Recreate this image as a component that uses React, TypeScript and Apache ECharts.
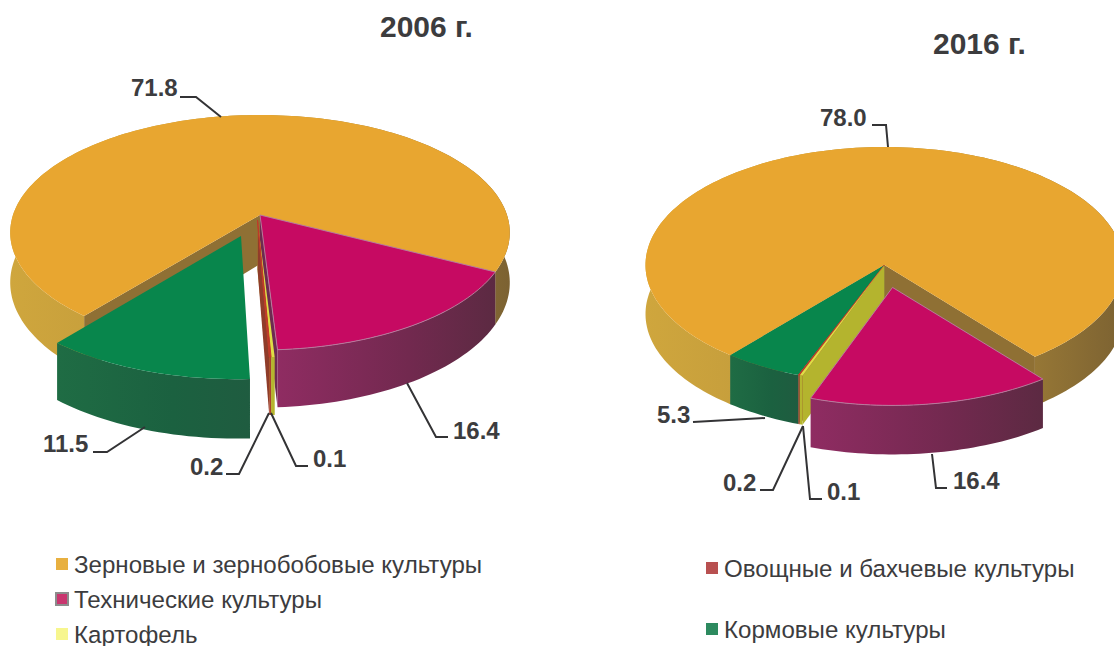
import React, { useEffect, useRef } from "react";
import * as echarts from "echarts";

const categories = [
  "Зерновые и зернобобовые культуры",
  "Технические культуры",
  "Картофель",
  "Овощные и бахчевые культуры",
  "Кормовые культуры",
];
const years = ["2006 г.", "2016 г."];
const values2006 = [71.8, 16.4, 0.2, 0.1, 11.5];
const values2016 = [78.0, 16.4, 0.2, 0.1, 5.3];

// clockwise drawing sequence of the slices (indices into categories)
const sequence = [1, 2, 3, 4, 0];

const FONT = "'Liberation Sans', Arial, sans-serif";
const TXT = "#3c3c3e";

const pies = [
  {
    cx: 260, cy: 215, rx: 247, ry: 114.9, k: 0.149, depth: 49, start: 27.5,
    explode: { 4: [-0.075, 0.178], 2: [-0.01, 0.045], 3: [-0.01, 0.045] } as Record<number, number[]>,
    paint: [1, 3, 4, 5, 2],
  },
  {
    cx: 884.5, cy: 265, rx: 239, ry: 118, k: 0, depth: 49, start: 51,
    explode: { 1: [0.0335, 0.19] } as Record<number, number[]>,
    paint: [1, 5, 4, 3, 2],
  },
];

const looks = [
  { top: "#e8a630", side: ["#cfa63d", "#b48f3a", "#7c6232"], wall: "#8f7034", edge: "" },
  { top: "#c60a62", side: ["#8f2c62", "#72294f", "#5c2a42"], wall: "#6d2a50", edge: "#b67a9c" },
  { top: "#dede45", side: ["#b5b52e", "#b5b52e", "#b5b52e"], wall: "#b4b42e", edge: "" },
  { top: "#c0392a", side: ["#a8412c", "#a8412c", "#a8412c"], wall: "#8f3d2a", edge: "#c0392a" },
  { top: "#08864c", side: ["#1f6c44", "#1b6140", "#1f5c40"], wall: "#1b6140", edge: "" },
];
const legendColors = ["#e8b040", "#c9366f", "#f7f68e", "#b85050", "#2d8a5f"];

const valuesByPie = [values2006, values2016];

function sliceRange(pieIdx: number, cat: number) {
  let a = pies[pieIdx].start;
  for (const c of sequence) {
    const sweep = (valuesByPie[pieIdx][c] / 100) * 360;
    if (c === cat) return [a, a + sweep];
    a += sweep;
  }
  return [a, a];
}

function renderSlice(cat: number) {
  return (params: any, api: any) => {
    const pieIdx = api.value(0);
    const pie = pies[pieIdx];
    const [a, b] = sliceRange(pieIdx, cat);
    const [ox, oy] = pie.explode[cat] || [0, 0];
    const look = looks[cat];
    const z2 = pie.paint[cat];
    const proj = (u: number, v: number, d: number) => {
      const w = 1 / (1 - pie.k * v);
      return [pie.cx + pie.rx * u * w, pie.cy + pie.ry * v * w + d * w];
    };
    const rim = (deg: number, d: number) => {
      const r = (deg * Math.PI) / 180;
      return proj(ox + Math.cos(r), oy + Math.sin(r), d);
    };
    const arc: number[] = [];
    const n = Math.max(2, Math.ceil((b - a) / 1.5));
    for (let i = 0; i <= n; i++) arc.push(a + ((b - a) * i) / n);
    const children: any[] = [];
    const wall = (deg: number) => ({
      type: "polygon",
      z2,
      shape: {
        points: [proj(ox, oy, 0), rim(deg, 0), rim(deg, pie.depth), proj(ox, oy, pie.depth)],
      },
      style: { fill: look.wall },
    });
    if (Math.cos((a * Math.PI) / 180) < 0) children.push(wall(a));
    if (Math.cos((b * Math.PI) / 180) > 0) children.push(wall(b));
    children.push({
      type: "polygon",
      z2,
      shape: {
        points: [...arc.map((t) => rim(t, 0)), ...arc.slice().reverse().map((t) => rim(t, pie.depth))],
      },
      style: {
        fill: new echarts.graphic.LinearGradient(0, 0, 1, 0, [
          { offset: 0, color: look.side[0] },
          { offset: 0.6, color: look.side[1] },
          { offset: 1, color: look.side[2] },
        ]),
      },
    });
    children.push({
      type: "polygon",
      z2,
      shape: { points: [proj(ox, oy, 0), ...arc.map((t) => rim(t, 0))] },
      style: {
        fill: look.top,
        stroke: look.edge || undefined,
        lineWidth: look.edge ? 1 : 0,
      },
    });
    return { type: "group", children };
  };
}

// label text position and leader line, per pie and category
const labelLayout = [
  [
    { cat: 0, x: 131, y: 87, line: [[180, 97], [196, 97], [221, 117]] },
    { cat: 1, x: 453, y: 430, line: [[407, 383], [436, 437], [448, 437]] },
    { cat: 3, x: 313, y: 458, line: [[271, 413], [296, 466], [308, 466]] },
    { cat: 2, x: 190, y: 466, line: [[269, 413], [239, 474], [226, 474]] },
    { cat: 4, x: 43, y: 443, line: [[145, 427], [107, 452], [93, 452]] },
  ],
  [
    { cat: 0, x: 820, y: 117, line: [[872, 125], [886, 125], [888, 147]] },
    { cat: 1, x: 953, y: 480, line: [[932, 454], [936, 488], [947, 488]] },
    { cat: 3, x: 827, y: 491, line: [[803, 426], [810, 499], [822, 499]] },
    { cat: 2, x: 723, y: 482, line: [[803, 426], [773, 490], [760, 490]] },
    { cat: 4, x: 657, y: 414, line: [[693, 422], [765, 418]] },
  ],
];

function labelGraphics() {
  const out: any[] = [];
  labelLayout.forEach((list, p) =>
    list.forEach((l) => {
      out.push({
        type: "polyline",
        z: 20,
        shape: { points: l.line },
        style: { stroke: "#333335", lineWidth: 2, fill: "none" },
      });
      out.push({
        type: "text",
        z: 20,
        x: l.x,
        y: l.y,
        style: {
          text: valuesByPie[p][l.cat].toFixed(1),
          fontFamily: FONT,
          fontWeight: "bold",
          fontSize: 24,
          fill: TXT,
          verticalAlign: "middle",
        },
      });
    })
  );
  return out;
}

export default function App() {
  const ref = useRef<HTMLDivElement>(null);
  useEffect(() => {
    const chart = echarts.init(ref.current!, undefined, { renderer: "svg" });
    const legendBase = {
      orient: "vertical",
      icon: "rect",
      itemWidth: 12,
      itemHeight: 12,
      selectedMode: false,
      padding: 0,
      height: 200,
      textStyle: { fontFamily: FONT, fontSize: 24.1, color: TXT, padding: [0, 0, 0, 1] },
    };
    const titleStyle = { fontFamily: FONT, fontWeight: "bold", fontSize: 30, color: TXT };
    chart.setOption({
      animation: false,
      backgroundColor: "#ffffff",
      title: [
        { text: years[0], left: 380, top: 11, padding: 0, textStyle: titleStyle },
        { text: years[1], left: 933, top: 28, padding: 0, textStyle: titleStyle },
      ],
      legend: [
        {
          ...legendBase,
          left: 55,
          top: 552,
          itemGap: 11,
          data: [
            { name: categories[0] },
            { name: categories[1], itemStyle: { borderColor: "#8c8c8c", borderWidth: 2 } },
            { name: categories[2] },
          ],
        },
        {
          ...legendBase,
          left: 706,
          top: 556,
          itemGap: 37,
          data: [{ name: categories[3] }, { name: categories[4] }],
        },
      ],
      series: categories.map((name, c) => ({
        type: "custom",
        name,
        coordinateSystem: "none",
        silent: true,
        itemStyle: { color: legendColors[c] },
        renderItem: renderSlice(c),
        data: [
          [0, values2006[c]],
          [1, values2016[c]],
        ],
      })),
      graphic: labelGraphics(),
    });
    return () => chart.dispose();
  }, []);
  return <div ref={ref} style={{ position: "absolute", left: 0, top: 0, width: 1114, height: 646 }} />;
}
